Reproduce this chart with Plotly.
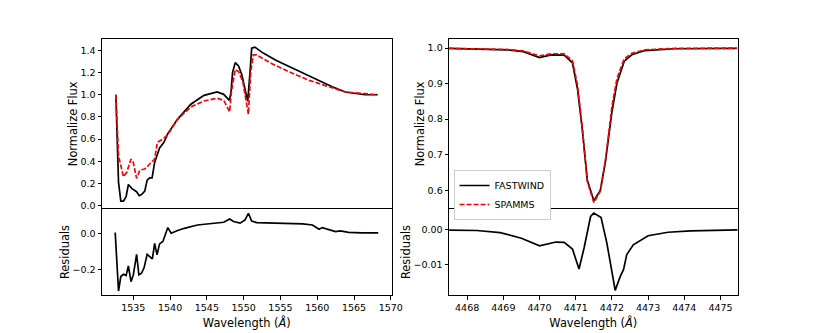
import plotly.graph_objects as go

# CIV 1550 region (left)
civ_wave = [1532.63, 1532.99, 1533.30, 1533.66, 1534.02, 1534.33, 1534.87, 1535.45, 1535.80,
            1536.12, 1536.56, 1536.88, 1537.23, 1537.55, 1537.90, 1538.57, 1539.16, 1539.69,
            1541.03, 1542.82, 1544.61, 1546.39, 1547.29, 1548.05, 1548.27, 1548.49, 1548.85,
            1549.30, 1549.75, 1550.19, 1550.55, 1550.86, 1551.09, 1551.53, 1552.65, 1554.44,
            1557.12, 1559.80, 1562.03, 1563.82, 1566.50, 1568.20]
civ_fastwind = [1.00, 0.21, 0.04, 0.04, 0.08, 0.19, 0.15, 0.125, 0.09,
                0.10, 0.13, 0.23, 0.25, 0.25, 0.39, 0.52, 0.57, 0.65,
                0.78, 0.915, 0.995, 1.025, 1.004, 0.95, 1.02, 1.20, 1.29,
                1.26, 1.18, 1.05, 0.94, 1.20, 1.42, 1.43, 1.376, 1.31,
                1.227, 1.144, 1.072, 1.025, 1.00, 1.00]

civ_wave_sp = [1532.63, 1532.99, 1533.66, 1534.11, 1534.69, 1535.00, 1535.45, 1535.89, 1536.56,
               1537.23, 1537.90, 1538.26, 1539.02, 1539.69, 1541.03, 1542.82, 1544.61, 1546.39,
               1547.29, 1548.09, 1548.32, 1548.85, 1549.30, 1549.88, 1550.33, 1550.64, 1550.95,
               1551.31, 1551.76, 1553.54, 1556.22, 1558.91, 1561.59, 1563.82, 1566.50, 1568.20]
civ_spamms = [1.00, 0.45, 0.26, 0.30, 0.42, 0.39, 0.245, 0.32, 0.33,
              0.38, 0.42, 0.57, 0.60, 0.64, 0.78, 0.89, 0.944, 0.968,
              0.95, 0.846, 1.02, 1.227, 1.21, 1.12, 0.94, 0.825, 1.20,
              1.36, 1.36, 1.29, 1.206, 1.13, 1.072, 1.025, 1.01, 1.00]

civ_wave_res = [1532.54, 1532.99, 1533.30, 1533.66, 1534.02, 1534.33, 1534.69, 1535.00, 1535.45,
                1535.76, 1536.12, 1536.47, 1536.88, 1537.23, 1537.59, 1537.90, 1538.22, 1538.57,
                1539.02, 1539.69, 1540.14, 1541.03, 1541.93, 1543.71, 1545.95, 1547.29, 1548.09,
                1548.63, 1549.52, 1550.19, 1550.64, 1551.09, 1551.76, 1554.00, 1556.22, 1558.01,
                1559.35, 1560.25, 1560.69, 1561.59, 1562.48, 1563.15, 1564.27, 1566.06, 1568.29]
civ_resid = [0.004, -0.315, -0.236, -0.224, -0.231, -0.178, -0.264, -0.227, -0.115,
             -0.227, -0.218, -0.187, -0.115, -0.127, -0.140, -0.055, -0.118, -0.058,
             -0.045, 0.031, 0.000, 0.015, 0.027, 0.045, 0.053, 0.060, 0.078,
             0.064, 0.055, 0.073, 0.109, 0.067, 0.058, 0.056, 0.056, 0.051,
             0.045, 0.022, 0.031, 0.018, 0.009, 0.013, 0.005, 0.002, 0.002]

# He I 4471 region (right)
hei_wave = [4467.50, 4468.27, 4469.09, 4469.55, 4470.00, 4470.32, 4470.68, 4470.91, 4471.05,
            4471.18, 4471.32, 4471.50, 4471.68, 4471.82, 4472.00, 4472.14, 4472.34, 4472.55,
            4472.91, 4473.73, 4475.45]
hei_fastwind = [0.999, 0.998, 0.995, 0.990, 0.973, 0.981, 0.980, 0.958, 0.884,
                0.772, 0.628, 0.570, 0.600, 0.680, 0.820, 0.902, 0.963, 0.981,
                0.993, 0.998, 0.999]
hei_spamms = [0.999, 0.998, 0.996, 0.992, 0.978, 0.984, 0.984, 0.964, 0.895,
              0.777, 0.625, 0.565, 0.597, 0.684, 0.835, 0.915, 0.970, 0.985,
              0.995, 0.999, 1.000]

hei_wave_res = [4467.50, 4468.27, 4468.91, 4469.50, 4470.00, 4470.45, 4470.68, 4470.91, 4471.09,
                4471.23, 4471.41, 4471.50, 4471.70, 4471.86, 4472.09, 4472.23, 4472.32, 4472.41,
                4472.59, 4473.00, 4473.55, 4474.18, 4475.48]
hei_resid = [-0.0001, -0.0002, -0.0008, -0.0024, -0.0046, -0.0035, -0.0036, -0.0055, -0.0112,
             -0.0052, 0.0038, 0.0048, 0.0035, -0.0038, -0.0173, -0.0133, -0.0114, -0.0071,
             -0.0043, -0.0017, -0.0007, -0.0003, 0.0]

W, H = 831, 333
OFF = 8  # page body margin
FONT = "DejaVu Sans"
LW = 1.7


def px_x(p):
    return (p - OFF) / W


def px_y(p):
    return 1 - (p - OFF) / H


fig = go.Figure()
fig.add_trace(go.Scatter(x=civ_wave, y=civ_fastwind, mode="lines", line=dict(color="black", width=LW),
                         xaxis="x", yaxis="y", showlegend=False))
fig.add_trace(go.Scatter(x=civ_wave_sp, y=civ_spamms, mode="lines",
                         line=dict(color="red", width=LW, dash="5px,2px"),
                         xaxis="x", yaxis="y", showlegend=False))
fig.add_trace(go.Scatter(x=civ_wave_res, y=civ_resid, mode="lines", line=dict(color="black", width=LW),
                         xaxis="x2", yaxis="y2", showlegend=False))
fig.add_trace(go.Scatter(x=hei_wave, y=hei_fastwind, mode="lines", name="FASTWIND",
                         line=dict(color="black", width=LW), xaxis="x3", yaxis="y3"))
fig.add_trace(go.Scatter(x=hei_wave, y=hei_spamms, mode="lines", name="SPAMMS",
                         line=dict(color="red", width=LW, dash="5px,2px"), xaxis="x3", yaxis="y3"))
fig.add_trace(go.Scatter(x=hei_wave_res, y=hei_resid, mode="lines", line=dict(color="black", width=LW),
                         xaxis="x4", yaxis="y4", showlegend=False))

left_dom = [px_x(103.3), px_x(396.7)]
right_dom = [px_x(455), px_x(747.3)]
top_dom = [px_y(210), px_y(39)]
bot_dom = [px_y(297), px_y(210)]

axis_style = dict(showline=True, linecolor="black", linewidth=1, mirror=True, showgrid=False,
                  zeroline=False, ticks="outside", ticklen=3.5, tickcolor="black",
                  tickfont=dict(family=FONT, size=9.5, color="black"))
top_x_style = dict(showline=True, linecolor="black", linewidth=1, mirror=False, side="top",
                   showgrid=False, zeroline=False, ticks="", showticklabels=False)
title_font = dict(family=FONT, size=11.4, color="black")

fig.update_layout(
    width=W, height=H, margin=dict(l=0, r=0, t=0, b=0),
    plot_bgcolor="white", paper_bgcolor="white",
    xaxis=dict(domain=left_dom, range=[1530.75, 1570.1], anchor="y", **top_x_style),
    yaxis=dict(domain=top_dom, range=[-0.029, 1.505], anchor="x", dtick=0.2, tickformat=".1f",
               title=dict(text="Normalize Flux", font=title_font, standoff=0), **axis_style),
    xaxis2=dict(domain=left_dom, range=[1530.75, 1570.1], anchor="y2", dtick=5,
                title=dict(text="Wavelength (<i>Å</i>)", font=title_font, standoff=6), **axis_style),
    yaxis2=dict(domain=bot_dom, range=[-0.338, 0.1335], anchor="x2", dtick=0.2, tickformat=".1f",
                title=dict(text="Residuals", font=title_font, standoff=0), **axis_style),
    xaxis3=dict(domain=right_dom, range=[4467.5, 4475.47], anchor="y3", **top_x_style),
    yaxis3=dict(domain=top_dom, range=[0.5476, 1.026], anchor="x3", dtick=0.1, tickformat=".1f",
                title=dict(text="Normalize Flux", font=title_font, standoff=0), **axis_style),
    xaxis4=dict(domain=right_dom, range=[4467.5, 4475.47], anchor="y4", dtick=1,
                title=dict(text="Wavelength (<i>Å</i>)", font=title_font, standoff=6), **axis_style),
    yaxis4=dict(domain=bot_dom, range=[-0.0187, 0.006], anchor="x4", dtick=0.01, tickformat=".2f",
                title=dict(text="Residuals", font=title_font, standoff=0), **axis_style),
    legend=dict(x=px_x(459.5), y=px_y(171), xanchor="left", yanchor="top",
                bgcolor="white", bordercolor="#cccccc", borderwidth=1, itemwidth=30,
                font=dict(family=FONT, size=9.5, color="black"), tracegroupgap=0),
)

fig.write_html("out.html")
